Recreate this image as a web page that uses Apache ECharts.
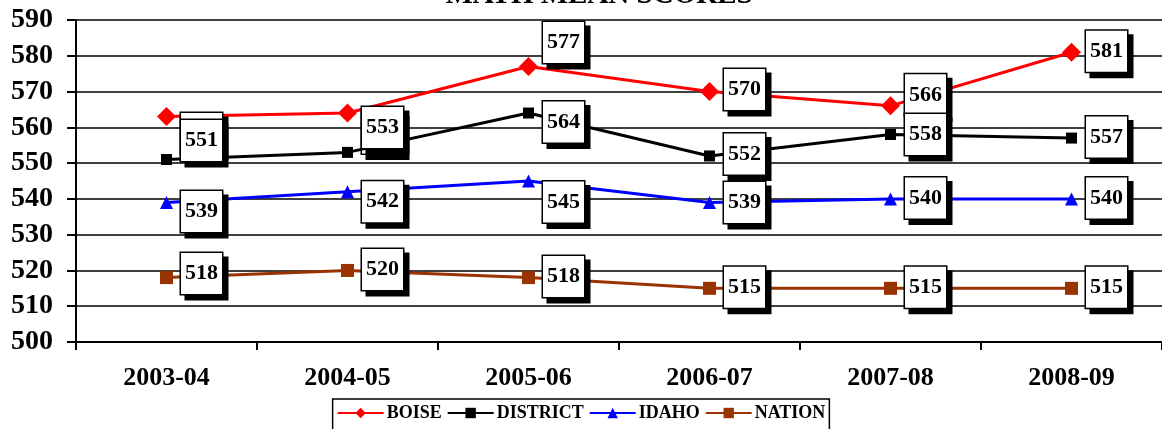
<!DOCTYPE html>
<html><head><meta charset="utf-8">
<script src="https://cdn.jsdelivr.net/npm/echarts@6/dist/echarts.min.js"></script>
<style>html,body{margin:0;padding:0;background:#fff}#c{width:1162px;height:429px}</style>
</head><body><div id="c"></div>
<script>
const categories = ['2003-04','2004-05','2005-06','2006-07','2007-08','2008-09'];
const boise    = [563, 564, 577, 570, 566, 581];
const district = [551, 553, 564, 552, 558, 557];
const idaho    = [539, 542, 545, 539, 540, 540];
const nation   = [518, 520, 518, 515, 515, 515];
const seriesNames = ['BOISE','DISTRICT','IDAHO','NATION'];

// vertical nudges (px) of the hand-placed label boxes of the original
const labelNudge = {
  BOISE:    [17, 20, -24, -2, -11, -1],
  DISTRICT: [-19, -25, 9, -2, 0, -1],
  IDAHO:    [9, 10, 21, 0, -1, -1],
  NATION:   [-4, -1, -1, -1, -1, -1]
};

const FONT = '"Liberation Serif","Times New Roman","DejaVu Serif",serif';
const labelStyle = {
  show: true, position: 'inside',
  color: '#000', fontFamily: FONT, fontWeight: 'bold', fontSize: 22, lineHeight: 22,
  backgroundColor: '#fff', borderColor: '#000', borderWidth: 1.5,
  padding: [10, 4, 9, 4],
  shadowColor: '#000', shadowOffsetX: 5, shadowOffsetY: 5, shadowBlur: 0
};

function mk(name, values, color, symbol, size, z) {
  return {
    name, type: 'line', data: values.map((v, i) => ({
      value: v, label: { offset: [35, labelNudge[name][i]] }
    })),
    symbol, symbolSize: size, z,
    lineStyle: { color, width: 3 }, itemStyle: { color },
    label: labelStyle, animation: false
  };
}

const chart = echarts.init(document.getElementById('c'), null, { renderer: 'canvas' });
chart.setOption({
  animation: false,
  title: {
    text: 'MATH MEAN SCORES', left: 594, textAlign: 'center', top: -24,
    textStyle: { fontFamily: FONT, fontWeight: 'bold', fontSize: 29, color: '#000' }
  },
  grid: { left: 76, right: -5, top: 20, bottom: 87 },
  legend: {
    data: seriesNames, top: 399, left: 'center',
    borderColor: '#000', borderWidth: 1.5, padding: [5, 4, 14, 4],
    itemWidth: 46, itemHeight: 13, itemGap: 5,
    textStyle: { fontFamily: FONT, fontWeight: 'bold', fontSize: 18, color: '#000', padding: [0, 0, 0, -2] }
  },
  xAxis: {
    type: 'category', data: categories, boundaryGap: true,
    axisLine: { lineStyle: { color: '#000', width: 2 } },
    axisTick: { show: true, length: 8, lineStyle: { color: '#000', width: 2 } },
    axisLabel: { margin: 23, color: '#000', fontFamily: FONT, fontWeight: 'bold', fontSize: 26 }
  },
  yAxis: {
    type: 'value', min: 500, max: 590, interval: 10,
    axisLine: { show: true, lineStyle: { color: '#000', width: 2 } },
    axisTick: { show: true, length: 9, lineStyle: { color: '#000', width: 2 } },
    splitLine: { lineStyle: { color: '#000', width: 1.5 } },
    axisLabel: { margin: 23, color: '#000', fontFamily: FONT, fontWeight: 'bold', fontSize: 28 }
  },
  series: [
    mk('BOISE', boise, '#FF0000', 'diamond', 19, 2),
    mk('DISTRICT', district, '#000000', 'rect', 11, 3),
    mk('IDAHO', idaho, '#0000FF', 'triangle', 13, 4),
    mk('NATION', nation, '#993300', 'rect', 13, 5)
  ]
});
</script></body></html>
